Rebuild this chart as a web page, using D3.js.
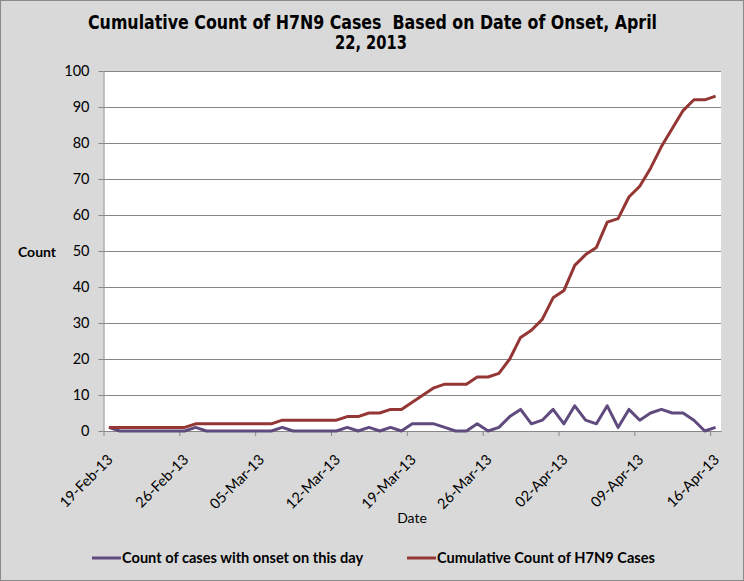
<!DOCTYPE html>
<html>
<head>
<meta charset="utf-8">
<script src="https://cdn.jsdelivr.net/npm/d3@7"></script>
<style>
  body { margin: 0; background: #fff; }
</style>
</head>
<body>
<svg id="drawing_region"></svg>
<script>
// data, one value per day starting 19-Feb-13
const start_date = "19-Feb-13";
const daily_counts = [
    1, 0, 0, 0, 0, 0, 0, 0, 1, 0,
    0, 0, 0, 0, 0, 0, 1, 0, 0, 0,
    0, 0, 1, 0, 1, 0, 1, 0, 2, 2,
    2, 1, 0, 0, 2, 0, 1, 4, 6, 2,
    3, 6, 2, 7, 3, 2, 7, 1, 6, 3,
    5, 6, 5, 5, 3, 0, 1
];
const cumulative_counts = [
    1, 1, 1, 1, 1, 1, 1, 1, 2, 2,
    2, 2, 2, 2, 2, 2, 3, 3, 3, 3,
    3, 3, 4, 4, 5, 5, 6, 6, 8, 10,
    12, 13, 13, 13, 15, 15, 16, 20, 26, 28,
    31, 37, 39, 46, 49, 51, 58, 59, 65, 68,
    73, 79, 84, 89, 92, 92, 93
];
const x_tick_labels = ["19-Feb-13", "26-Feb-13", "05-Mar-13", "12-Mar-13", "19-Mar-13",
    "26-Mar-13", "02-Apr-13", "09-Apr-13", "16-Apr-13"];
const y_ticks = [0, 10, 20, 30, 40, 50, 60, 70, 80, 90, 100];
const series_names = ["Count of cases with onset on this day", "Cumulative Count of H7N9 Cases"];
const series_colors = ["#5f4b7e", "#943634"];

const config = {
    width: 744,
    height: 581,
    margin: { top: 71, right: 23, bottom: 150, left: 103.5 }
};

const body_font = 'Lato, "Open Sans", sans-serif';
const title_font = '"Liberation Sans Narrow", "Arial Narrow", "DejaVu Sans Condensed", sans-serif';

const parse = d3.utcParse("%d-%b-%y");
const fmt = d3.utcFormat("%d-%b-%y");
const first = parse(start_date);
const dates = daily_counts.map((d, i) => d3.utcDay.offset(first, i));

const inner_width = config.width - config.margin.left - config.margin.right;
const inner_height = config.height - config.margin.top - config.margin.bottom;

const svg = d3.select('#drawing_region')
    .attr('width', config.width)
    .attr('height', config.height)
    .style('font-family', body_font);

// chart area background + border
svg.append('rect')
    .attr('x', 0.5).attr('y', 0.5)
    .attr('width', config.width - 1).attr('height', config.height - 1)
    .attr('fill', '#d9d9d9')
    .attr('stroke', '#8a8a8a');

const chart = svg.append('g')
    .attr('transform', `translate(${config.margin.left}, ${config.margin.top})`);

chart.append('rect')
    .attr('width', inner_width)
    .attr('height', inner_height)
    .attr('fill', '#fff');

// each day occupies one interval, points sit in the middle
const xscale = d3.scaleUtc()
    .domain([first, d3.utcDay.offset(first, daily_counts.length)])
    .range([0, inner_width]);
const xmid = d => xscale(d3.utcHour.offset(d, 12));

const yscale = d3.scaleLinear()
    .domain([0, 100])
    .range([inner_height, 0]);

// gridlines
chart.append('g')
    .selectAll('line')
    .data(y_ticks.filter(v => v > 0))
    .join('line')
    .attr('x1', 0).attr('x2', inner_width)
    .attr('y1', d => Math.round(yscale(d)) + 0.5)
    .attr('y2', d => Math.round(yscale(d)) + 0.5)
    .attr('stroke', '#878787');

const yaxis = d3.axisLeft(yscale)
    .tickValues(y_ticks)
    .tickSize(5)
    .tickSizeOuter(0)
    .tickPadding(9);

const yaxis_group = chart.append('g').call(yaxis);
yaxis_group.selectAll('path, line').attr('stroke', '#878787');
yaxis_group.selectAll('text')
    .style('font-family', body_font)
    .style('font-size', '14.5px')
    .attr('fill', '#000');

const xaxis = d3.axisBottom(xscale)
    .tickValues(x_tick_labels.map(parse))
    .tickFormat(fmt)
    .tickSize(5)
    .tickSizeOuter(0);

const xaxis_group = chart.append('g')
    .attr('transform', `translate(0, ${inner_height})`)
    .call(xaxis);
xaxis_group.selectAll('path, line').attr('stroke', '#878787');
xaxis_group.selectAll('text')
    .style('font-family', body_font)
    .style('font-size', '14.5px')
    .attr('fill', '#000')
    .attr('text-anchor', 'end')
    .attr('dy', '0.35em')
    .attr('transform', 'translate(6, 26) rotate(-45)')
    .attr('y', 0)
    .attr('x', 0);

// series lines
const line = d3.line()
    .x(d => xmid(d.date))
    .y(d => yscale(d.value));

const series = [daily_counts, cumulative_counts].map((vals, k) => ({
    name: series_names[k],
    color: series_colors[k],
    points: vals.map((v, i) => ({ date: dates[i], value: v }))
}));

chart.append('g')
    .selectAll('path')
    .data(series)
    .join('path')
    .attr('fill', 'none')
    .attr('stroke', d => d.color)
    .attr('stroke-width', 3)
    .attr('stroke-linejoin', 'round')
    .attr('d', d => line(d.points));

// title (narrow bold face squeezed to the reference width)
const title = svg.append('text')
    .attr('text-anchor', 'middle')
    .style('font-family', title_font)
    .style('font-weight', 'bold')
    .style('font-size', '19px');
title.append('tspan')
    .attr('x', 372.5).attr('y', 28.5)
    .attr('textLength', 569)
    .attr('lengthAdjust', 'spacingAndGlyphs')
    .style('white-space', 'pre')
    .text("Cumulative Count of H7N9 Cases  Based on Date of Onset, April");
title.append('tspan')
    .attr('x', 371).attr('y', 49)
    .attr('textLength', 72)
    .attr('lengthAdjust', 'spacingAndGlyphs')
    .text("22, 2013");

// axis titles
svg.append('text')
    .attr('x', 18).attr('y', 257)
    .style('font-weight', 'bold')
    .style('font-size', '14px')
    .text("Count");

svg.append('text')
    .attr('x', 412).attr('y', 523)
    .attr('text-anchor', 'middle')
    .style('font-size', '14px')
    .text("Date");

// legend
const legend_x = [92, 407];
const legend = svg.append('g')
    .selectAll('g')
    .data(series)
    .join('g')
    .attr('transform', (d, i) => `translate(${legend_x[i]}, 558)`);
legend.append('line')
    .attr('x1', 0).attr('x2', 29)
    .attr('stroke', d => d.color)
    .attr('stroke-width', 3);
legend.append('text')
    .attr('x', 30).attr('y', 4.5)
    .style('font-weight', 'bold')
    .style('font-size', '14.6px')
    .text(d => d.name);
</script>
</body>
</html>
